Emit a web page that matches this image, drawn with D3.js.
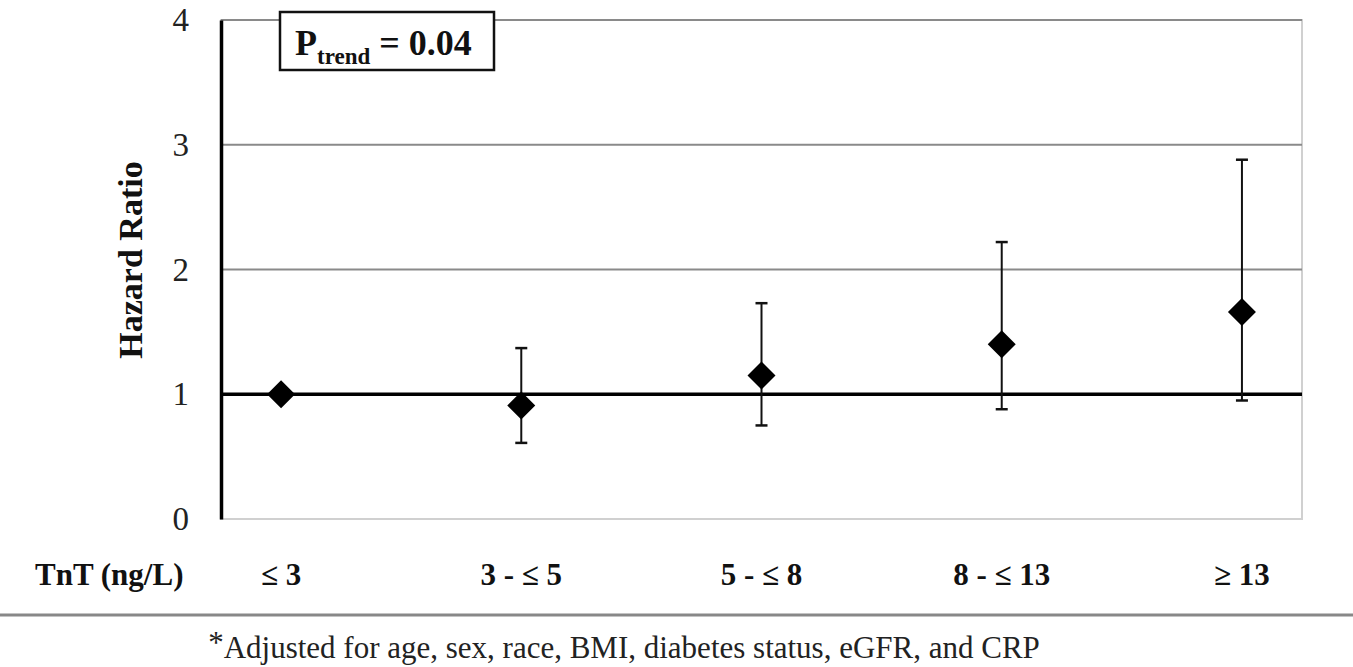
<!DOCTYPE html>
<html>
<head>
<meta charset="utf-8">
<script src="https://cdn.jsdelivr.net/npm/d3@7"></script>
<style>
  body { margin: 0; background: #fff; }
  svg text { font-family: "Liberation Serif", "Times New Roman", serif; }
</style>
</head>
<body>
<div id="chart"></div>
<script>
const categories = ["\u2264 3", "3 - \u2264 5", "5 - \u2264 8", "8 - \u2264 13", "\u2265 13"];
const hazard = [1.0, 0.91, 1.15, 1.40, 1.66];
const lower = [null, 0.61, 0.75, 0.88, 0.95];
const upper = [null, 1.37, 1.73, 2.22, 2.88];
const yTicks = [0, 1, 2, 3, 4];

const width = 1353, height = 667;
const svg = d3.select("#chart").append("svg")
    .attr("width", width)
    .attr("height", height);

const plotL = 221, plotR = 1302, plotT = 20, plotB = 519;

const x = d3.scalePoint().domain(categories).range([plotL, plotR]).padding(0.25);
const y = d3.scaleLinear().domain([0, 4]).range([plotB, plotT]);

// plot frame (light gray right / bottom)
svg.append("rect")
    .attr("x", plotL).attr("y", plotT)
    .attr("width", plotR - plotL).attr("height", plotB - plotT)
    .attr("fill", "none")
    .attr("stroke", "#d0d0d0")
    .attr("stroke-width", 2);

// gridlines
svg.selectAll(".grid")
    .data(yTicks.filter(d => d > 0))
    .enter().append("line")
    .attr("class", "grid")
    .attr("x1", plotL).attr("x2", plotR)
    .attr("y1", d => y(d)).attr("y2", d => y(d))
    .attr("stroke", d => d === 1 ? "#000" : "#8a8a8a")
    .attr("stroke-width", d => d === 1 ? 3.5 : 2);

// y axis
const yAxis = d3.axisLeft(y).tickValues(yTicks).tickSize(0).tickPadding(32).tickFormat(d3.format("d"));
const gy = svg.append("g").attr("transform", `translate(${plotL},0)`).call(yAxis);
gy.select(".domain").attr("stroke", "#000").attr("stroke-width", 3.5);
gy.selectAll("text").attr("font-size", 33).attr("fill", "#222")
    .style("font-family", "'Liberation Serif', serif");

// y label
svg.append("text")
    .attr("transform", `translate(142,260) rotate(-90)`)
    .attr("text-anchor", "middle")
    .attr("font-size", 34)
    .attr("font-weight", "bold")
    .attr("fill", "#111")
    .text("Hazard Ratio");

// error bars
const pts = categories.map((c, i) => ({ c, v: hazard[i], lo: lower[i], hi: upper[i] }));
const eb = svg.selectAll(".eb").data(pts.filter(d => d.lo !== null)).enter().append("g");
eb.append("line")
    .attr("x1", d => x(d.c)).attr("x2", d => x(d.c))
    .attr("y1", d => y(d.lo)).attr("y2", d => y(d.hi))
    .attr("stroke", "#111").attr("stroke-width", 2);
["lo", "hi"].forEach(k => {
  eb.append("line")
      .attr("x1", d => x(d.c) - 6).attr("x2", d => x(d.c) + 6)
      .attr("y1", d => y(d[k])).attr("y2", d => y(d[k]))
      .attr("stroke", "#111").attr("stroke-width", 2.5);
});

// diamonds
svg.selectAll(".pt").data(pts).enter().append("path")
    .attr("transform", d => `translate(${x(d.c)},${y(d.v)})`)
    .attr("d", "M0,-14L14,0L0,14L-14,0Z")
    .attr("fill", "#000");

// x category labels
svg.selectAll(".xl").data(categories).enter().append("text")
    .attr("x", d => x(d)).attr("y", 585)
    .attr("text-anchor", "middle")
    .attr("font-size", 31)
    .attr("font-weight", "bold")
    .attr("fill", "#111")
    .text(d => d);

svg.append("text")
    .attr("x", 35).attr("y", 585)
    .attr("font-size", 31)
    .attr("font-weight", "bold")
    .attr("fill", "#111")
    .text("TnT (ng/L)");

// separator line
svg.append("line")
    .attr("x1", 0).attr("x2", width)
    .attr("y1", 615).attr("y2", 615)
    .attr("stroke", "#888").attr("stroke-width", 3);

// footnote
const fn = svg.append("text")
    .attr("x", 624).attr("y", 658)
    .attr("text-anchor", "middle")
    .attr("font-size", 31)
    .attr("fill", "#222");
fn.append("tspan").attr("dy", -5).text("*");
fn.append("tspan").attr("dy", 5).text("Adjusted for age, sex, race, BMI, diabetes status, eGFR, and CRP");

// P trend box
svg.append("rect")
    .attr("x", 280).attr("y", 12)
    .attr("width", 214).attr("height", 58)
    .attr("fill", "#fff")
    .attr("stroke", "#111").attr("stroke-width", 2.5);
const pt = svg.append("text")
    .attr("x", 295).attr("y", 55)
    .attr("font-weight", "bold")
    .attr("font-size", 36)
    .attr("fill", "#111");
pt.append("tspan").text("P");
pt.append("tspan").attr("dy", 9).attr("font-size", 23).text("trend");
pt.append("tspan").attr("dy", -9).text(" = 0.04");
</script>
</body>
</html>
